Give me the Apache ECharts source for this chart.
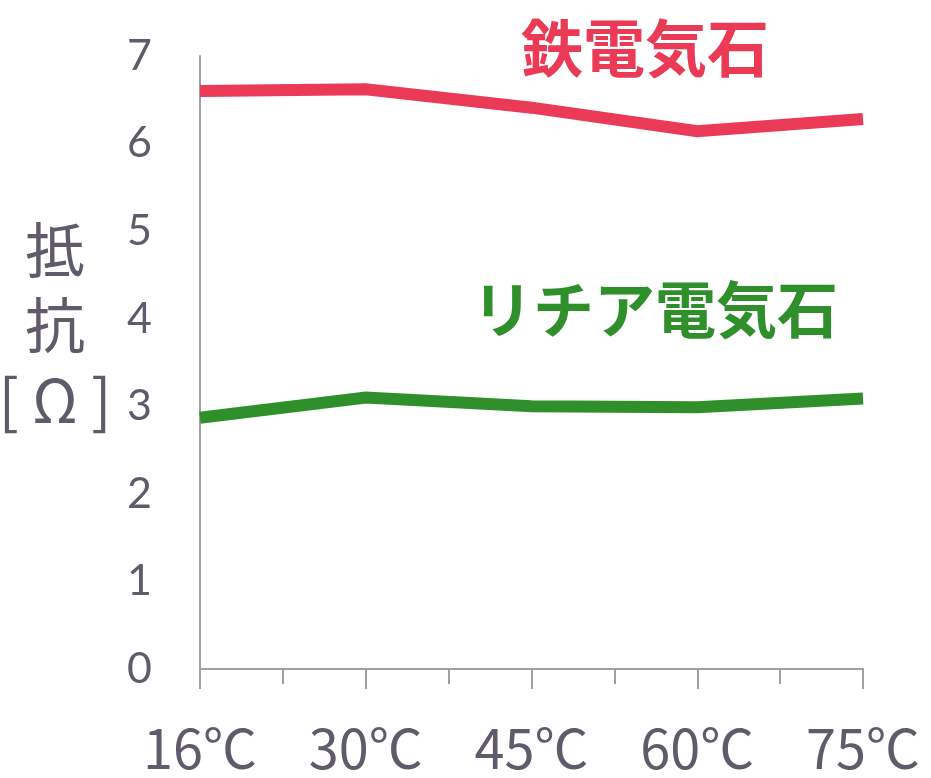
<!DOCTYPE html>
<html>
<head>
<meta charset="utf-8">
<script src="https://cdn.jsdelivr.net/npm/echarts@6/dist/echarts.min.js"></script>
<style>
  html, body { margin: 0; padding: 0; background: #fff; }
  #chart { width: 931px; height: 778px; }
</style>
</head>
<body>
<div id="chart"></div>
<script>
// Temperature categories and measured resistance values [Ω]
const temperatures = ['16℃', '30℃', '45℃', '60℃', '75℃'];
const ironTourmaline = [6.60, 6.62, 6.41, 6.14, 6.28];
const lithiumTourmaline = [2.87, 3.10, 3.00, 2.99, 3.09];
const yTicks = [0, 1, 2, 3, 4, 5, 6, 7];

const textColor = '#605a6a';
const axisColor = '#a0a0a0';
const numFont = 'Lato, "Open Sans", "Noto Sans CJK JP", sans-serif';
const jpFont = '"Noto Sans CJK JP", sans-serif';

const chart = echarts.init(document.getElementById('chart'), null, { renderer: 'canvas' });

const toPairs = arr => arr.map((v, i) => [i, v]);

chart.setOption({
  animation: false,
  backgroundColor: '#ffffff',
  grid: { left: 200, right: 68, top: 56, bottom: 109, containLabel: false, outerBoundsMode: 'none' },
  title: [
    {
      text: '鉄電気石',
      left: 516, top: 12,
      textStyle: { color: '#ea3a56', fontSize: 62, fontWeight: 'bold', fontFamily: jpFont }
    },
    {
      text: 'リチア電気石',
      left: 467, top: 274,
      textStyle: { color: '#2f8f2b', fontSize: 61, fontWeight: 'bold', fontFamily: jpFont }
    }
  ],
  xAxis: {
    type: 'value',
    min: 0, max: temperatures.length - 1, interval: 1,
    axisLine: { show: true, lineStyle: { color: axisColor, width: 2 } },
    axisTick: { show: true, inside: false, length: 20, lineStyle: { color: axisColor, width: 2 } },
    minorTick: { show: true, splitNumber: 2, length: 15, lineStyle: { color: axisColor, width: 2 } },
    splitLine: { show: false },
    axisLabel: {
      margin: 52,
      color: textColor, fontSize: 54, fontFamily: jpFont,
      formatter: v => temperatures[v] || ''
    }
  },
  yAxis: {
    type: 'value',
    min: yTicks[0], max: yTicks[yTicks.length - 1], interval: 1,
    axisLine: { show: true, lineStyle: { color: axisColor, width: 2 } },
    axisTick: { show: false },
    splitLine: { show: false },
    axisLabel: {
      margin: 48,
      color: textColor, fontSize: 43, fontFamily: numFont
    },
    // trailing blank line lifts the stacked name above the axis middle
    name: '抵\n抗\n[ Ω ]\n',
    nameLocation: 'middle',
    nameRotate: 0,
    nameGap: 145,
    nameTextStyle: {
      color: textColor, fontSize: 60, lineHeight: 75, fontFamily: jpFont,
      align: 'center'
    }
  },
  series: [
    {
      name: '鉄電気石',
      type: 'line',
      data: toPairs(ironTourmaline),
      symbol: 'none',
      lineStyle: { color: '#ea3a56', width: 12, cap: 'butt', join: 'miter' }
    },
    {
      name: 'リチア電気石',
      type: 'line',
      data: toPairs(lithiumTourmaline),
      symbol: 'none',
      lineStyle: { color: '#2f8f2b', width: 12, cap: 'butt', join: 'miter' }
    }
  ]
});
</script>
</body>
</html>
